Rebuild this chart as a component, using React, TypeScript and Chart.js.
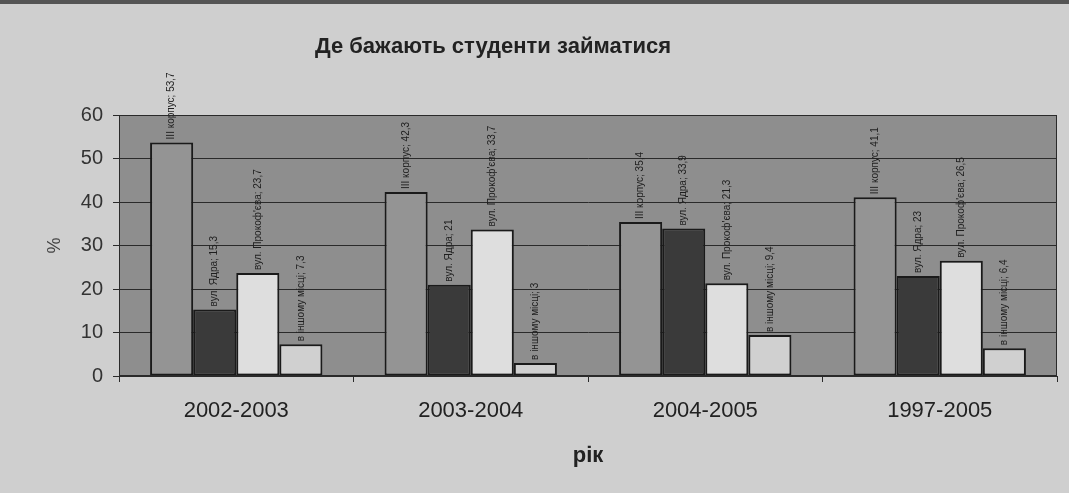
import React, { useEffect, useRef } from 'react';
import { Chart, registerables } from 'chart.js';

Chart.register(...registerables);

const categories = ['2002-2003', '2003-2004', '2004-2005', '1997-2005'];
const seriesNames = ['ІІІ корпус', 'вул. Ядра', "вул. Прокоф'єва", 'в іншому місці'];
const korpus = [53.7, 42.3, 35.4, 41.1];
const yadra = [15.3, 21, 33.9, 23];
const prokofieva = [23.7, 33.7, 21.3, 26.5];
const inshe = [7.3, 3, 9.4, 6.4];
const seriesColors = ['#949494', '#3a3a3a', '#dedede', '#d0d0d0'];
const chartTitle = 'Де бажають студенти займатися';
const xTitle = 'рік';
const yTitle = '%';
const yMin = 0;
const yMax = 60;
const yStep = 10;

const FONT = "'Liberation Sans', Arial, sans-serif";

const fmt = (v: number) => String(v).replace('.', ',');

const bgPlugin = {
  id: 'bgPlugin',
  beforeDraw(chart: any) {
    const { ctx, chartArea } = chart;
    ctx.save();
    ctx.fillStyle = '#8e8e8e';
    ctx.fillRect(chartArea.left, chartArea.top, chartArea.right - chartArea.left, chartArea.bottom - chartArea.top);
    ctx.restore();
  },
  afterDraw(chart: any) {
    const { ctx, chartArea } = chart;
    ctx.save();
    ctx.strokeStyle = '#2a2a2a';
    ctx.lineWidth = 1;
    ctx.strokeRect(chartArea.left + 0.5, chartArea.top + 0.5, chartArea.right - chartArea.left - 1, chartArea.bottom - chartArea.top - 1);
    ctx.fillStyle = '#222';
    ctx.font = `bold 22px ${FONT}`;
    ctx.textAlign = 'center';
    ctx.textBaseline = 'middle';
    ctx.fillText(chartTitle, 493, 47);
    ctx.restore();
  },
};

const labelPlugin = {
  id: 'labelPlugin',
  afterDatasetsDraw(chart: any) {
    const { ctx } = chart;
    ctx.save();
    ctx.fillStyle = '#1e1e1e';
    ctx.font = `10px ${FONT}`;
    ctx.textAlign = 'left';
    ctx.textBaseline = 'middle';
    chart.data.datasets.forEach((ds: any, di: number) => {
      const meta = chart.getDatasetMeta(di);
      meta.data.forEach((el: any, i: number) => {
        const text = `${seriesNames[di]}; ${fmt(ds.data[i])}`;
        ctx.save();
        ctx.translate(el.x, el.y - 3);
        ctx.rotate(-Math.PI / 2);
        ctx.fillText(text, 0, 0);
        ctx.restore();
      });
    });
    ctx.restore();
  },
};

export default function App() {
  const ref = useRef<HTMLCanvasElement>(null);
  useEffect(() => {
    if (!ref.current) return;
    const series = [korpus, yadra, prokofieva, inshe];
    const chart = new Chart(ref.current, {
      type: 'bar',
      data: {
        labels: categories,
        datasets: series.map((d, i) => ({
          label: seriesNames[i],
          data: d,
          backgroundColor: seriesColors[i],
          borderColor: '#1a1a1a',
          borderWidth: 2,
          borderSkipped: false,
          barPercentage: 1,
          categoryPercentage: 0.735,
        })),
      },
      options: {
        responsive: false,
        animation: false,
        devicePixelRatio: 1,
        layout: { padding: { top: 115, right: 12, left: 0, bottom: 0 } },
        plugins: {
          legend: { display: false },
          title: { display: false },
          tooltip: { enabled: false },
        },
        scales: {
          x: {
            afterFit(s: any) { s.height = 117; },
            grid: { offset: true, drawOnChartArea: false, drawTicks: true, tickLength: 6, color: '#2a2a2a' },
            border: { color: '#2a2a2a', width: 1 },
            ticks: { font: { family: FONT, size: 22 }, color: '#222', padding: 16 },
            title: { display: true, text: xTitle, font: { family: FONT, size: 22, weight: 'bold' }, color: '#222', padding: { top: 0, bottom: 24 } },
          },
          y: {
            min: yMin,
            max: yMax,
            afterFit(s: any) { s.width = 119; },
            grid: { color: '#2a2a2a', tickLength: 6, lineWidth: 1 },
            border: { color: '#2a2a2a', width: 1 },
            ticks: { stepSize: yStep, font: { family: FONT, size: 20 }, color: '#333', padding: 10 },
            title: { display: true, text: yTitle, font: { family: FONT, size: 18 }, color: '#444', padding: { top: 44, bottom: 0 } },
          },
        },
      },
      plugins: [bgPlugin, labelPlugin],
    });
    return () => chart.destroy();
  }, []);
  return (
    <div style={{ position: 'fixed', left: 0, top: 0, width: 1069, height: 493, background: '#cfcfcf', overflow: 'hidden' }}>
      <canvas ref={ref} width={1069} height={493} style={{ display: 'block' }} />
      <div style={{ position: 'absolute', left: 0, top: 0, width: 1069, height: 4, background: '#555' }} />
    </div>
  );
}
